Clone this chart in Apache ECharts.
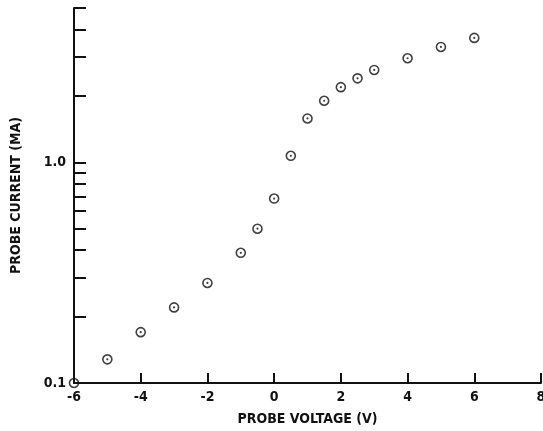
<!DOCTYPE html>
<html>
<head>
<meta charset="utf-8">
<script src="https://cdn.jsdelivr.net/npm/echarts@6/dist/echarts.min.js"></script>
<style>
html,body{margin:0;padding:0;background:#fff;}
#chart{width:543px;height:431px;}
</style>
</head>
<body>
<div id="chart"></div>
<script>
var voltage = [-6, -5, -4, -3, -2, -1, -0.5, 0, 0.5, 1, 1.5, 2, 2.5, 3, 4, 5, 6];
var current = [0.1, 0.128, 0.170, 0.22, 0.284, 0.389, 0.50, 0.685, 1.07, 1.58, 1.90, 2.19, 2.40, 2.62, 2.96, 3.33, 3.66];
var xTicks = [-6, -4, -2, 0, 2, 4, 6, 8];
var yTickValues = [0.1, 0.2, 0.3, 0.4, 0.5, 0.6, 0.7, 0.8, 0.9, 1, 2, 3, 4, 5];
var yLabelValues = [0.1, 1];
var yLabelText = {"0.1": "0.1", "1": "1.0"};

var FONT = "'Liberation Sans Narrow', 'DejaVu Sans Condensed', 'Roboto Condensed', sans-serif";
var points = voltage.map(function (v, i) { return [v, current[i]]; });

var chart = echarts.init(document.getElementById('chart'));
chart.setOption({
  animation: false,
  backgroundColor: '#fff',
  grid: { left: 74, right: 2, top: 8, bottom: 48, containLabel: false, outerBoundsMode: 'none' },
  xAxis: {
    type: 'value',
    min: -6, max: 8, interval: 2,
    name: 'PROBE VOLTAGE (V)',
    nameLocation: 'middle',
    nameGap: 29,
    nameTextStyle: { fontFamily: FONT, fontWeight: 'bold', fontSize: 14, color: '#111' },
    axisLine: { show: true, onZero: false, lineStyle: { color: '#111', width: 2 } },
    axisTick: { show: true, inside: true, length: 10, lineStyle: { color: '#111', width: 2 } },
    axisLabel: {
      fontFamily: FONT, fontWeight: 'bold', fontSize: 14, color: '#111', margin: 7,
      customValues: xTicks,
      formatter: function (v) { return String(v); }
    },
    splitLine: { show: false }
  },
  yAxis: {
    type: 'log',
    logBase: 10,
    min: 0.1, max: 5,
    name: 'PROBE CURRENT (MA)',
    nameLocation: 'middle',
    nameRotate: 90,
    nameGap: 51,
    nameTextStyle: { fontFamily: FONT, fontWeight: 'bold', fontSize: 14, color: '#111' },
    axisLine: { show: true, onZero: false, lineStyle: { color: '#111', width: 2 } },
    axisTick: { show: true, inside: true, length: 12, customValues: yTickValues, lineStyle: { color: '#111', width: 2 } },
    axisLabel: {
      fontFamily: FONT, fontWeight: 'bold', fontSize: 14, color: '#111', margin: 8,
      customValues: yLabelValues,
      formatter: function (v) {
        var k = String(Math.round(v * 10) / 10);
        return yLabelText[k] !== undefined ? yLabelText[k] : k;
      }
    },
    minorTick: { show: false },
    splitLine: { show: false }
  },
  series: [
    {
      type: 'scatter',
      data: points,
      symbol: 'circle',
      symbolSize: 9,
      itemStyle: { color: 'rgba(255,255,255,0)', borderColor: '#111', borderWidth: 1.6 },
      z: 3
    },
    {
      type: 'scatter',
      data: points,
      symbol: 'circle',
      symbolSize: 2.2,
      itemStyle: { color: '#111' },
      z: 4
    }
  ]
});
</script>
</body>
</html>
